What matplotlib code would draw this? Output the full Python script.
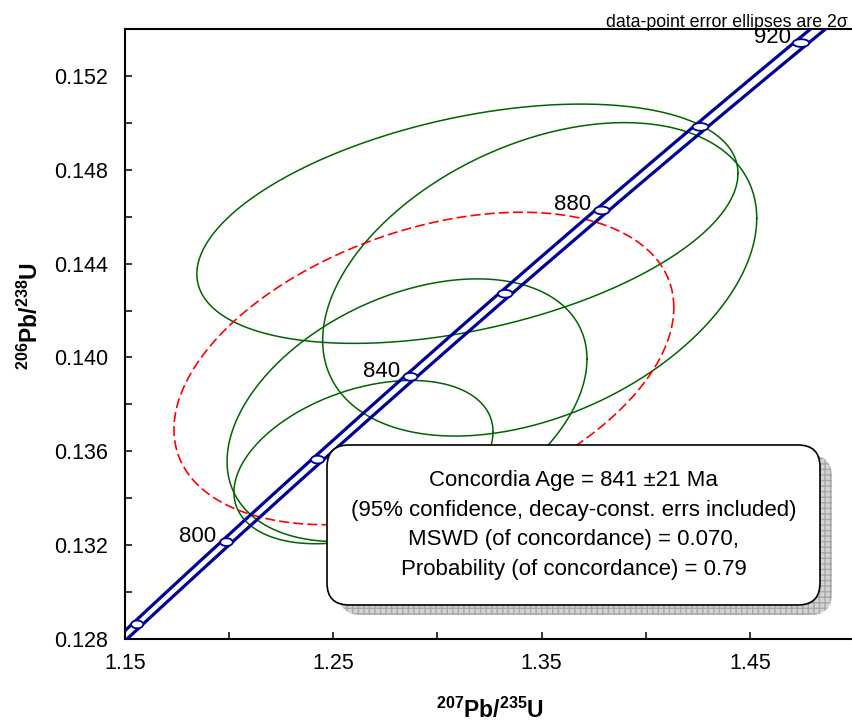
import numpy as np
import matplotlib
matplotlib.use('Agg')
import matplotlib.pyplot as plt
from matplotlib.patches import FancyBboxPatch, Ellipse
from matplotlib.ticker import MultipleLocator, FormatStrFormatter

plt.rcParams['font.family'] = ['Liberation Sans', 'DejaVu Sans']
plt.rcParams['mathtext.fontset'] = 'custom'
plt.rcParams['mathtext.rm'] = 'Liberation Sans'
plt.rcParams['mathtext.bf'] = 'Liberation Sans:bold'

# decay constants (1/yr) and relative 95% error on lambda235 for the band
LAMBDA_238 = 1.55125e-10
LAMBDA_235 = 9.8485e-10
LAMBDA_235_ERR = 0.0016

marker_ages = [780, 800, 820, 840, 860, 880, 900, 920]
label_ages = [800, 840, 880, 920]

# data-point error ellipses (2 sigma): 207/235, 206/238, errors, rho
pt_x = [1.3144, 1.3491, 1.2854, 1.2645]
pt_sx = [0.1299, 0.1042, 0.0864, 0.0622]
pt_y = [0.14570, 0.14333, 0.13775, 0.13554]
pt_sy = [0.00510, 0.00668, 0.00560, 0.00348]
pt_rho = [0.42, 0.39, 0.39, 0.37]

# concordia age ellipse
conc_x, conc_sx = 1.2935, 0.1200
conc_y, conc_sy = 0.13953, 0.00666
conc_rho = 0.39

result_lines = [
    'Concordia Age = 841 \u00b121 Ma',
    '(95% confidence, decay-const. errs included)',
    'MSWD (of concordance) = 0.070,',
    'Probability (of concordance) = 0.79',
]


def concordia(age_ma, rel=0.0):
    t = np.asarray(age_ma, dtype=float) * 1e6
    x = np.exp(LAMBDA_235 * (1 + rel) * t) - 1
    y = np.exp(LAMBDA_238 * t) - 1
    return x, y


def error_ellipse(cx, sx, cy, sy, rho, n=400):
    t = np.linspace(0, 2 * np.pi, n)
    x = cx + sx * np.cos(t)
    y = cy + sy * (rho * np.cos(t) + np.sqrt(1 - rho ** 2) * np.sin(t))
    return x, y


fig = plt.figure(figsize=(8.52, 7.26), dpi=100)
ax = fig.add_axes([125 / 852, 87 / 726, 729 / 852, 610 / 726])
ax.set_xlim(1.15, 1.50)
ax.set_ylim(0.128, 0.154)

# data ellipses
for i in range(len(pt_x)):
    ex, ey = error_ellipse(pt_x[i], pt_sx[i], pt_y[i], pt_sy[i], pt_rho[i])
    ax.plot(ex, ey, color='#006400', lw=1.1, zorder=2)

ex, ey = error_ellipse(conc_x, conc_sx, conc_y, conc_sy, conc_rho)
ax.plot(ex, ey, color='#ff0000', lw=1.2, ls=(0, (6, 2.5)), zorder=2)

# concordia band
ages = np.linspace(740, 980, 400)
x_lo, y_c = concordia(ages, -LAMBDA_235_ERR)
x_hi, _ = concordia(ages, LAMBDA_235_ERR)
ax.plot(x_lo, y_c, color='#000099', lw=2.3, zorder=3)
ax.plot(x_hi, y_c, color='#000099', lw=2.3, zorder=3)

for age in marker_ages:
    xc, yc = concordia(age)
    dx = concordia(age, LAMBDA_235_ERR)[0] - xc
    ax.add_patch(Ellipse((xc, yc), width=2.2 * dx, height=0.00033,
                         facecolor='white', edgecolor='#000099', lw=1.3, zorder=4))

for age in label_ages:
    xc, yc = concordia(age)
    ax.annotate(str(age), (xc, yc), xytext=(-7.5, 0), textcoords='offset points',
                ha='right', va='baseline', fontsize=16, zorder=5)

# axes styling
ax.set_xticks([1.15, 1.25, 1.35, 1.45])
ax.xaxis.set_minor_locator(MultipleLocator(0.05))
ax.yaxis.set_major_locator(MultipleLocator(0.004))
ax.yaxis.set_minor_locator(MultipleLocator(0.002))
ax.xaxis.set_major_formatter(FormatStrFormatter('%.2f'))
ax.yaxis.set_major_formatter(FormatStrFormatter('%.3f'))
ax.tick_params(which='both', direction='in', length=5, width=1.1, labelsize=15.5)
ax.tick_params(axis='x', pad=10)
ax.tick_params(axis='y', pad=12)
ax.spines['right'].set_visible(False)
for s in ['left', 'bottom', 'top']:
    ax.spines[s].set_linewidth(1.5)

ax.set_xlabel(r'$^{\mathbf{207}}$Pb/$^{\mathbf{235}}$U', fontsize=16.5, fontweight='bold')
ax.set_ylabel(r'$^{\mathbf{206}}$Pb/$^{\mathbf{238}}$U', fontsize=16.5, fontweight='bold')
ax.xaxis.set_label_coords(0.5, -0.097)
ax.yaxis.set_label_coords(-0.113, 0.53)

# result box with hatched shadow
shadow = FancyBboxPatch((3.39, 1.11), 4.93, 1.60, boxstyle='round,pad=0,rounding_size=0.22',
                        transform=fig.dpi_scale_trans, facecolor='#d4d4d4',
                        edgecolor='#a8a8a8', lw=0, hatch='+++', zorder=10)
box = FancyBboxPatch((3.27, 1.21), 4.93, 1.60, boxstyle='round,pad=0,rounding_size=0.22',
                     transform=fig.dpi_scale_trans, facecolor='white',
                     edgecolor='black', lw=1.2, zorder=11)
fig.add_artist(shadow)
fig.add_artist(box)
fig.text(5.735, 2.01, '\n'.join(result_lines), transform=fig.dpi_scale_trans,
         ha='center', va='center', fontsize=16, linespacing=1.55, zorder=12)

fig.text(848 / 852, (726 - 26.7) / 726, 'data-point error ellipses are 2\u03c3',
         ha='right', va='baseline', fontsize=12.8)

fig.savefig('out.png', dpi=100)
